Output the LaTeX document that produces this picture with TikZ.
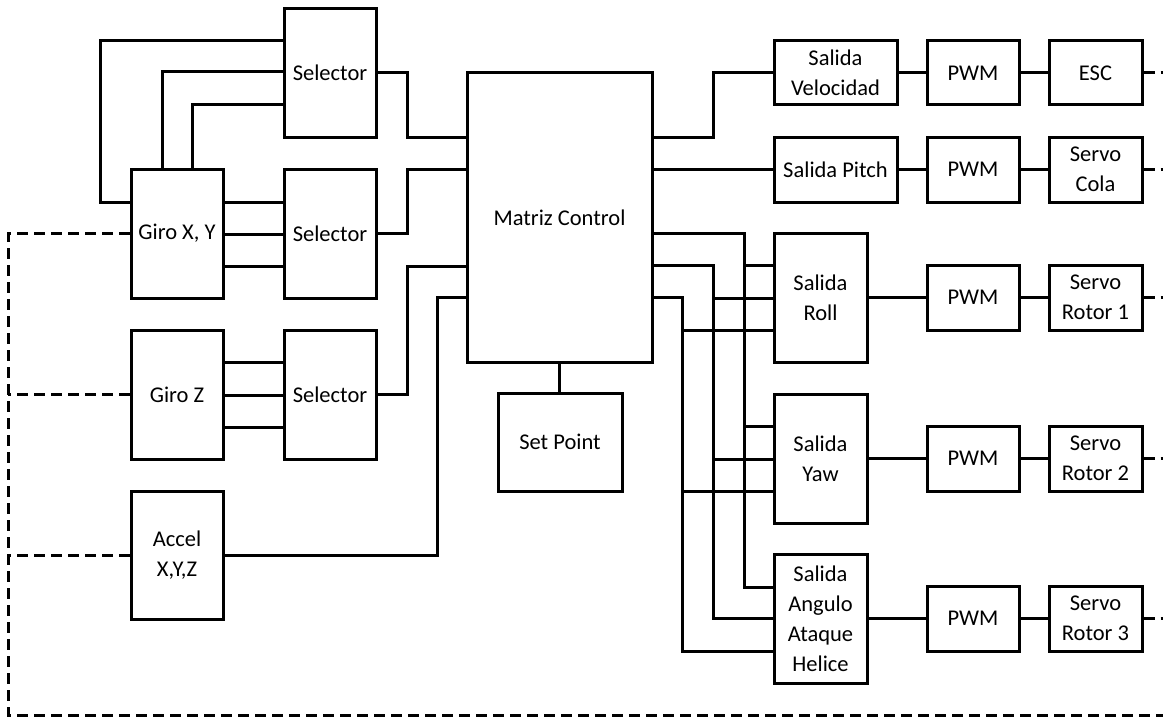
\documentclass[tikz,border=0pt]{standalone}
\usepackage{fontspec}
\setmainfont{Carlito}
\usetikzlibrary{calc}
\tikzset{
  box/.style={draw, line width=3pt, inner sep=0pt, align=center,
    font=\fontsize{22.5}{30}\selectfont},
  wire/.style={line width=3pt},
  dwire/.style={line width=3pt, dash pattern=on 11pt off 6pt},
}
\newcommand\bx[6]{\node[box, minimum width={(#4-#2)*1pt}, minimum height={(#5-#3)*1pt}]
  (#1) at ({(#2+#4)/2},{(#3+#5)/2}) {#6};}
\begin{document}
\begin{tikzpicture}[x=1pt,y=-1pt]
\useasboundingbox (0,0) rectangle (1163,717);
% input side
\bx{sel1}{284}{9}{376}{137}{Selector}
\bx{gxy}{131}{169}{223}{298}{Giro X, Y}
\bx{sel2}{284}{169}{376}{298}{Selector}
\bx{gz}{131}{330}{223}{459}{Giro Z}
\bx{sel3}{284}{330}{376}{459}{Selector}
\bx{acc}{131}{491}{223}{619}{Accel\\X,Y,Z}
\bx{mat}{467}{73}{652}{362}{Matriz Control}
\bx{sp}{498}{393}{622}{491}{Set Point}
% output side
\bx{vel}{774}{41}{897}{105}{Salida\\Velocidad}
\bx{pit}{774}{137}{897}{202}{Salida Pitch}
\bx{roll}{774}{233}{867}{362}{Salida\\Roll}
\bx{yaw}{774}{394}{867}{523}{Salida\\Yaw}
\bx{ang}{774}{554}{867}{683}{Salida\\Angulo\\Ataque\\Helice}
\bx{pwm1}{927}{41}{1019}{105}{PWM}
\bx{pwm2}{927}{137}{1019}{202}{PWM}
\bx{pwm3}{927}{265}{1019}{330}{PWM}
\bx{pwm4}{927}{426}{1019}{491}{PWM}
\bx{pwm5}{927}{586}{1019}{651}{PWM}
\bx{o1}{1049}{41}{1142}{105}{ESC}
\bx{o2}{1049}{137}{1142}{202}{Servo\\Cola}
\bx{o3}{1049}{265}{1142}{330}{Servo\\Rotor 1}
\bx{o4}{1049}{426}{1142}{491}{Servo\\Rotor 2}
\bx{o5}{1049}{586}{1142}{651}{Servo\\Rotor 3}
% helper coordinates
\coordinate (bA) at (744,0);
\coordinate (bB) at (713,0);
\coordinate (bC) at (682,0);
\coordinate (edgeR) at (1163,0);
\coordinate (dashL) at (8,0);
% Giro X,Y -> Selector 1
\draw[wire] (gxy.west |- 0,202) -| (100,41) -- (sel1.west |- 0,41);
\draw[wire] (gxy.north -| 162,0) |- (sel1.west |- 0,72);
\draw[wire] (gxy.north -| 192,0) |- (sel1.west |- 0,105);
% Giro X,Y -> Selector 2
\foreach \yy in {202,234,266} \draw[wire] (gxy.east |- 0,\yy) -- (sel2.west |- 0,\yy);
% Giro Z -> Selector 3
\foreach \yy in {362,395,427} \draw[wire] (gz.east |- 0,\yy) -- (sel3.west |- 0,\yy);
% Selectors / Accel -> Matriz
\draw[wire] (sel1.east) -| (407,137) -- (mat.west |- 0,137);
\draw[wire] (sel2.east) -| (407,169) -- (mat.west |- 0,169);
\draw[wire] (sel3.east) -| (407,266) -- (mat.west |- 0,266);
\draw[wire] (acc.east) -| (437,297) -- (mat.west |- 0,297);
\draw[wire] (mat.south |- sp.north) -- (mat.south);
% Matriz -> outputs
\draw[wire] (mat.east |- 0,137) -- (713,137) |- (vel.west);
\draw[wire] (mat.east |- pit.west) -- (pit.west);
\draw[wire] (mat.east |- 0,233) -| (bA |- 0,587) -- (ang.west |- 0,587);
\draw[wire] (mat.east |- 0,265) -| (bB |- 0,618) -- (ang.west |- 0,618);
\draw[wire] (mat.east |- 0,297) -| (bC |- 0,651) -- (ang.west |- 0,651);
\draw[wire] (bA |- 0,265) -- (roll.west |- 0,265);
\draw[wire] (bB |- 0,298) -- (roll.west |- 0,298);
\draw[wire] (bC |- 0,330) -- (roll.west |- 0,330);
\draw[wire] (bA |- 0,426) -- (yaw.west |- 0,426);
\draw[wire] (bB |- 0,459) -- (yaw.west |- 0,459);
\draw[wire] (bC |- 0,491) -- (yaw.west |- 0,491);
% chains
\draw[wire] (vel.east) -- (pwm1.west) (pwm1.east) -- (o1.west);
\draw[wire] (pit.east) -- (pwm2.west) (pwm2.east) -- (o2.west);
\draw[wire] (roll.east) -- (pwm3.west) (pwm3.east) -- (o3.west);
\draw[wire] (yaw.east) -- (pwm4.west) (pwm4.east) -- (o4.west);
\draw[wire] (ang.east) -- (pwm5.west) (pwm5.east) -- (o5.west);
% dashed feedback
\foreach \o in {o1,o2,o3,o4,o5} \draw[dwire] (\o.east) -- (\o.east -| edgeR);
\draw[dwire] (gxy.west) -| (dashL |- 0,715) -- (edgeR |- 0,715);
\draw[dwire] (gz.west) -- (gz.west -| dashL);
\draw[dwire] (acc.west) -- (acc.west -| dashL);
\end{tikzpicture}
\end{document}
